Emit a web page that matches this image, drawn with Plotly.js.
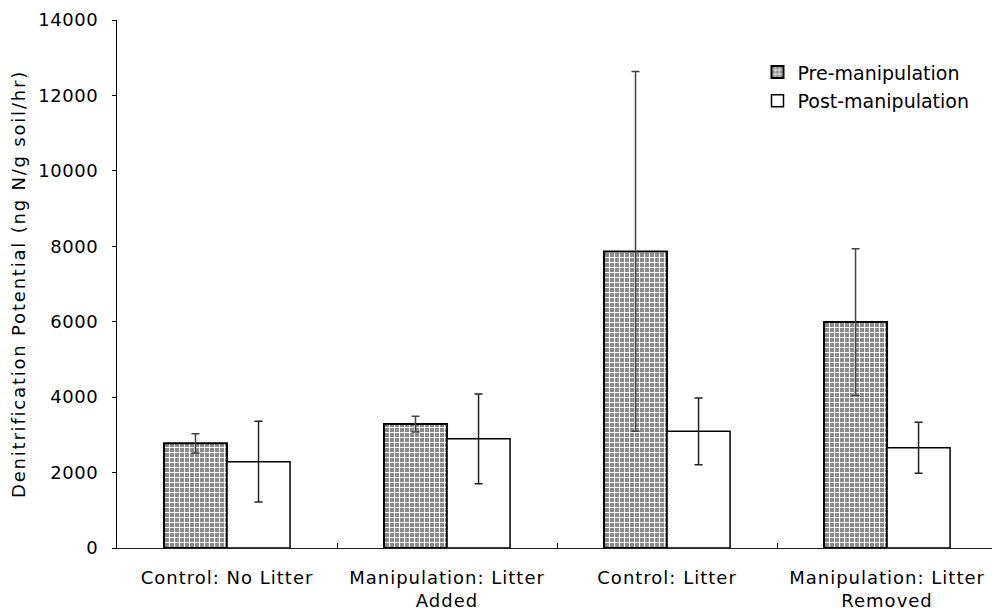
<!DOCTYPE html>
<html>
<head>
<meta charset="utf-8">
<script src="https://cdn.plot.ly/plotly-3.0.1.min.js"></script>
<style>
html,body{margin:0;padding:0;background:#fff;}
#chart{width:992px;height:610px;}
#chart .xtick text { letter-spacing: 1px; }
#chart .ytick text { letter-spacing: 0.6px; }
#chart .ytitle { letter-spacing: 1.8px; }
</style>
</head>
<body>
<div id="chart"></div>
<script>
var categories = ["Control: No Litter", "Manipulation: Litter<br>Added", "Control: Litter", "Manipulation: Litter<br>Removed"];
var preValues = [2775, 3285, 7865, 5990];
var preErrors = [255, 208, 4770, 1945];
var postValues = [2290, 2895, 3095, 2660];
var postErrors = [1070, 1190, 885, 676];
var yTicks = [0, 2000, 4000, 6000, 8000, 10000, 12000, 14000];

var FONT = "DejaVu Sans, Verdana, sans-serif";

var tracePre = {
  type: "bar",
  name: "Pre-manipulation",
  legendgroup: "pre",
  x: categories,
  y: preValues,
  error_y: {type: "data", array: preErrors, visible: true, color: "#444", thickness: 1.5, width: 4},
  marker: {
    color: "#999",
    line: {color: "#000", width: 2},
    pattern: {shape: "+", fgcolor: "#ffffff", bgcolor: "#8a8a8a", size: 5, solidity: 0.35}
  }
};
var tracePost = {
  type: "bar",
  name: "Post-manipulation",
  legendgroup: "post",
  x: categories,
  y: postValues,
  error_y: {type: "data", array: postErrors, visible: true, color: "#222", thickness: 1.5, width: 4},
  marker: {color: "#ffffff", line: {color: "#000", width: 1.5}}
};

var layout = {
  width: 992, height: 610,
  margin: {l: 117, r: 0, t: 20, b: 62},
  paper_bgcolor: "#fff", plot_bgcolor: "#fff",
  font: {family: FONT, size: 18, color: "#000"},
  barmode: "group",
  bargap: 0.427,
  bargroupgap: 0,
  showlegend: true,
  legend: {
    x: 0.732, y: 0.937, xanchor: "left", yanchor: "top",
    bgcolor: "rgba(0,0,0,0)", font: {family: FONT, size: 19, color: "#000"},
    traceorder: "grouped", tracegroupgap: 1, itemwidth: 30
  },
  xaxis: {
    type: "category",
    range: [-0.5, 3.477],
    tickson: "boundaries",
    ticks: "inside", ticklen: 5, tickcolor: "#000", tickwidth: 1,
    showline: true, linecolor: "#222", linewidth: 1,
    showgrid: false, zeroline: false,
    ticklabelstandoff: 13,
    tickfont: {family: FONT, size: 18, color: "#000"}
  },
  yaxis: {
    range: [0, 14000],
    tickvals: yTicks,
    ticktext: yTicks.map(String),
    ticks: "outside", ticklen: 4, tickcolor: "#000", tickwidth: 1,
    showline: true, linecolor: "#000", linewidth: 1,
    showgrid: false, zeroline: false,
    ticklabelstandoff: 10,
    tickfont: {family: FONT, size: 18, color: "#000"},
    title: {text: "Denitrification Potential (ng N/g soil/hr)", font: {family: FONT, size: 18, color: "#000"}, standoff: 10}
  }
};

Plotly.newPlot("chart", [tracePre, tracePost], layout, {staticPlot: true, displayModeBar: false});
</script>
</body>
</html>
